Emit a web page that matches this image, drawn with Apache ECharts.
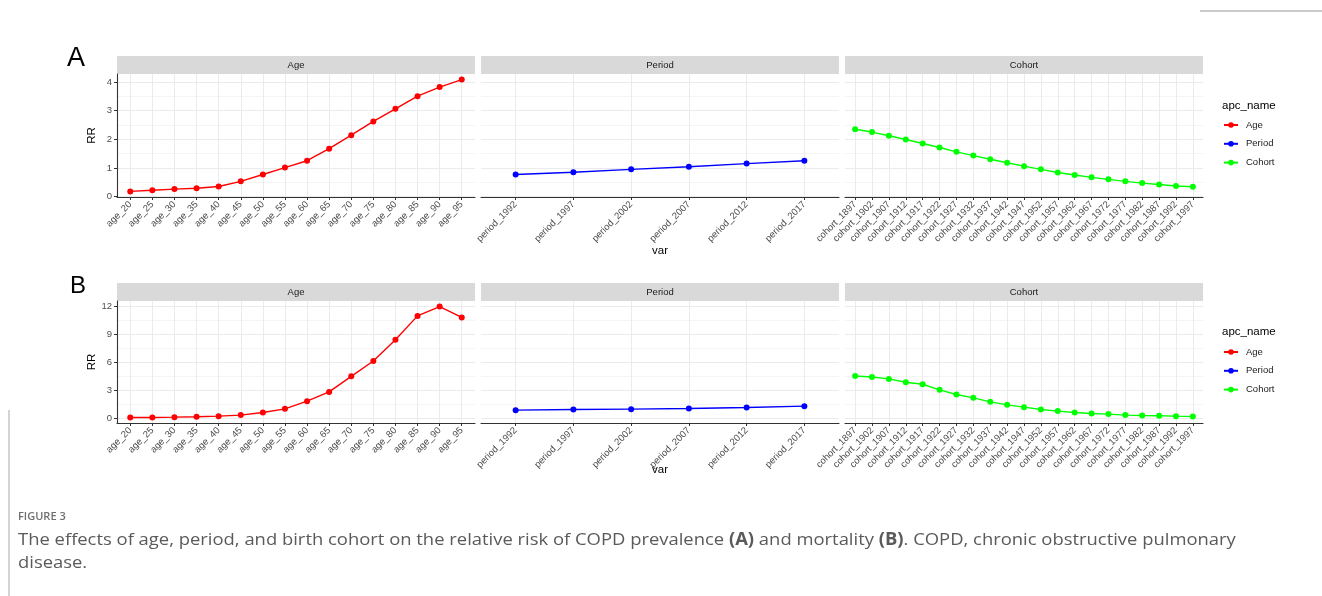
<!DOCTYPE html>
<html><head><meta charset="utf-8">
<script src="https://cdn.jsdelivr.net/npm/echarts@6/dist/echarts.min.js"></script>
<style>html,body{margin:0;padding:0;background:#fff}#c{width:1322px;height:596px}</style>
</head><body><div id="c"></div>
<script>
// ---------- data ----------
const facetNames = ['Age', 'Period', 'Cohort'];
const ageCats = ['age_20','age_25','age_30','age_35','age_40','age_45','age_50','age_55','age_60','age_65','age_70','age_75','age_80','age_85','age_90','age_95'];
const periodCats = ['period_1992','period_1997','period_2002','period_2007','period_2012','period_2017'];
const cohortCats = ['cohort_1897','cohort_1902','cohort_1907','cohort_1912','cohort_1917','cohort_1922','cohort_1927','cohort_1932','cohort_1937','cohort_1942','cohort_1947','cohort_1952','cohort_1957','cohort_1962','cohort_1967','cohort_1972','cohort_1977','cohort_1982','cohort_1987','cohort_1992','cohort_1997'];

// (A) prevalence
const prevAge = [0.18,0.22,0.26,0.29,0.35,0.53,0.77,1.01,1.25,1.67,2.14,2.62,3.06,3.50,3.82,4.08];
const prevPeriod = [0.77,0.85,0.95,1.04,1.15,1.25];
const prevCohort = [2.35,2.25,2.12,1.99,1.85,1.71,1.56,1.43,1.30,1.18,1.06,0.95,0.84,0.75,0.67,0.60,0.53,0.47,0.42,0.37,0.34];
const prevTicks = [0,1,2,3,4];
const prevMinor = [0.5,1.5,2.5,3.5];

// (B) mortality
const mortAge = [0.07,0.07,0.10,0.14,0.21,0.32,0.60,0.99,1.81,2.80,4.47,6.11,8.38,10.93,11.93,10.76];
const mortPeriod = [0.85,0.92,0.96,1.03,1.14,1.28];
const mortCohort = [4.51,4.40,4.19,3.83,3.62,3.02,2.52,2.17,1.74,1.42,1.17,0.92,0.75,0.60,0.50,0.43,0.32,0.28,0.25,0.21,0.18];
const mortTicks = [0,3,6,9,12];
const mortMinor = [1.5,4.5,7.5,10.5];

const seriesColors = ['#FF0000', '#0000FF', '#00FF00'];

// ---------- layout ----------
const FONT = 'Liberation Sans, Arial, sans-serif';
const panelX = [117, 481, 845];
const panelW = 358;
const rows = [
  { letter: 'A', letterX: 67, letterY: 59, letterSize: 27, stripTop: 56, plotTop: 74, plotH: 123,
    data: [prevAge, prevPeriod, prevCohort], ticks: prevTicks, minor: prevMinor, legendTop: 120, legendTitleY: 106, varY: 251 },
  { letter: 'B', letterX: 70, letterY: 286.5, letterSize: 24, stripTop: 283, plotTop: 301, plotH: 122,
    data: [mortAge, mortPeriod, mortCohort], ticks: mortTicks, minor: mortMinor, legendTop: 347, legendTitleY: 332, varY: 470 }
];
const catsList = [ageCats, periodCats, cohortCats];

const grids = [], xAxes = [], yAxes = [], series = [], graphics = [], legends = [];

rows.forEach((row, r) => {
  const all = [].concat(...row.data);
  const lo = Math.min(...all), hi = Math.max(...all);
  const pad = (hi - lo) * 0.05;
  const yMin = lo - pad, yMax = hi + pad;

  for (let f = 0; f < 3; f++) {
    const g = grids.length;
    const cats = catsList[f];
    grids.push({ left: panelX[f], top: row.plotTop, width: panelW, height: row.plotH, containLabel: false });
    const idx = cats.map((_, i) => i);
    xAxes.push({
      type: 'value', gridIndex: g, min: -0.6, max: cats.length - 1 + 0.6, position: 'bottom',
      axisLine: { show: true, onZero: false, lineStyle: { color: '#333', width: 1.1 } },
      axisTick: { show: true, length: 3, customValues: idx, lineStyle: { color: '#333', width: 1 } },
      axisLabel: { show: true, customValues: idx, rotate: 45, margin: 6, fontSize: 9.5, color: '#4d4d4d', fontFamily: FONT,
        formatter: v => cats[Math.round(v)] },
      splitLine: { show: true, lineStyle: { color: '#ebebeb', width: 1 } }
    });
    // minor grid lines axis (drawn first)
    yAxes.push({
      type: 'value', gridIndex: g, min: yMin, max: yMax, position: 'left',
      axisLine: { show: false },
      axisTick: { show: false, customValues: row.minor },
      axisLabel: { show: false },
      splitLine: { show: true, lineStyle: { color: '#f4f4f4', width: 1 } }
    });
    const first = f === 0;
    yAxes.push({
      type: 'value', gridIndex: g, min: yMin, max: yMax, position: 'left',
      axisLine: { show: first, onZero: false, lineStyle: { color: '#333', width: 1.1 } },
      axisTick: { show: first, length: 3, customValues: row.ticks, lineStyle: { color: '#333', width: 1 } },
      axisLabel: { show: first, customValues: row.ticks, margin: 5, fontSize: 9.5, color: '#4d4d4d', fontFamily: FONT },
      splitLine: { show: true, lineStyle: { color: '#ebebeb', width: 1 } }
    });
    series.push({
      name: facetNames[f], type: 'line', xAxisIndex: g, yAxisIndex: yAxes.length - 1,
      data: row.data[f].map((v, i) => [i, v]),
      symbol: 'circle', symbolSize: 6, showSymbol: true,
      lineStyle: { color: seriesColors[f], width: 1.4 },
      itemStyle: { color: seriesColors[f] },
      emphasis: { disabled: true }, animation: false
    });
    // strip
    graphics.push({ type: 'rect', shape: { x: panelX[f], y: row.stripTop, width: panelW, height: row.plotTop - row.stripTop },
      style: { fill: '#d9d9d9' }, silent: true });
    graphics.push({ type: 'text', x: panelX[f] + panelW / 2, y: (row.stripTop + row.plotTop) / 2,
      style: { text: facetNames[f], fill: '#1a1a1a', font: '9.5px ' + FONT, align: 'center', verticalAlign: 'middle' }, silent: true });
  }
  // letter
  graphics.push({ type: 'text', x: row.letterX, y: row.letterY,
    style: { text: row.letter, fill: '#000', font: row.letterSize + 'px ' + FONT, align: 'left', verticalAlign: 'middle' } });
  // RR
  graphics.push({ type: 'text', x: 92, y: row.plotTop + row.plotH / 2, rotation: Math.PI / 2,
    style: { text: 'RR', fill: '#000', font: '11.5px ' + FONT, align: 'center', verticalAlign: 'middle' } });
  // var
  graphics.push({ type: 'text', x: 660, y: row.varY,
    style: { text: 'var', fill: '#000', font: '11.5px ' + FONT, align: 'center', verticalAlign: 'middle' } });
  // legend title
  graphics.push({ type: 'text', x: 1222, y: row.legendTitleY,
    style: { text: 'apc_name', fill: '#000', font: '11.5px ' + FONT, align: 'left', verticalAlign: 'middle' } });
  legends.push({
    data: facetNames, orient: 'vertical', left: 1223, top: row.legendTop, padding: 0,
    itemWidth: 14, itemHeight: 7, itemGap: 8.8, selectedMode: false,
    textStyle: { fontSize: 9.5, color: '#1a1a1a', fontFamily: FONT, padding: [0, 0, 0, 3] }
  });
});

// caption and frame lines
graphics.push({ type: 'line', shape: { x1: 1200, y1: 11, x2: 1322, y2: 11 }, style: { stroke: '#b8b8b8', lineWidth: 1.5 } });
graphics.push({ type: 'line', shape: { x1: 9, y1: 410, x2: 9, y2: 596 }, style: { stroke: '#b8b8b8', lineWidth: 1.2 } });
const CAPF = '"Open Sans", "Noto Sans", sans-serif';
graphics.push({ type: 'text', x: 18, y: 517, style: { text: 'FIGURE 3', fill: '#6f6f6f', font: '600 11px ' + CAPF, align: 'left', verticalAlign: 'middle' } });
graphics.push({ type: 'text', x: 18, y: 540, scaleX: 1.083, style: {
  text: 'The effects of age, period, and birth cohort on the relative risk of COPD prevalence {b|(A)} and mortality {b|(B)}. COPD, chronic obstructive pulmonary',
  fill: '#5a5a5a', font: '17px ' + CAPF, align: 'left', verticalAlign: 'middle',
  rich: { b: { fontWeight: 'bold', fontSize: 17, fontFamily: CAPF, fill: '#5a5a5a' } } } });
graphics.push({ type: 'text', x: 18, y: 563, scaleX: 1.083, style: { text: 'disease.', fill: '#5a5a5a', font: '17px ' + CAPF, align: 'left', verticalAlign: 'middle' } });

const chart = echarts.init(document.getElementById('c'), null, { renderer: 'canvas' });
chart.setOption({
  backgroundColor: '#fff',
  animation: false,
  grid: grids, xAxis: xAxes, yAxis: yAxes, series: series, legend: legends,
  graphic: { elements: graphics }
});
</script></body></html>
